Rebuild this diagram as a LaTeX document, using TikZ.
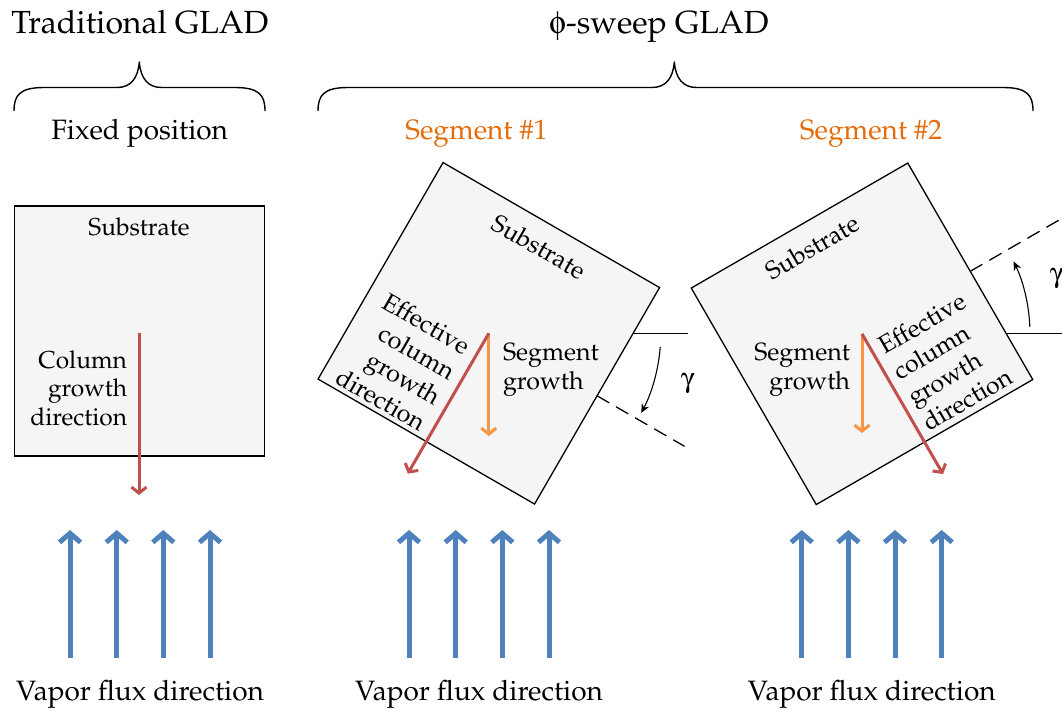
\documentclass[tikz,border=0pt]{standalone}
\usepackage[T1]{fontenc}
\usepackage{mathpazo}
\usepackage[Symbol]{upgreek}
\usetikzlibrary{arrows.meta}
\definecolor{fluxblue}{HTML}{4F81BD}
\definecolor{colred}{HTML}{C0504D}
\definecolor{segorange}{HTML}{F79646}
\definecolor{segtext}{HTML}{E46C0A}
\definecolor{subfill}{HTML}{F5F5F5}
\newcommand{\fsTitle}{\fontsize{32}{38}\selectfont}
\newcommand{\fsHead}{\fontsize{28}{33}\selectfont}
\newcommand{\fsBox}{\fontsize{24.5}{28.5}\selectfont}
\newcommand{\fsSeg}{\fontsize{25}{29.5}\selectfont}
\begin{document}
\begin{tikzpicture}[x=1pt,y=1pt,
  every node/.style={inner sep=0pt, outer sep=0pt},
  substrate/.style={draw=black, line width=1.3pt, fill=subfill, minimum width=250pt, minimum height=250pt},
  title/.style={font=\fsTitle, anchor=base},
  head/.style={font=\fsHead, anchor=base},
  boxtxt/.style={font=\fsBox},
  segtxt/.style={font=\fsSeg},
  bracestyle/.style={line width=1.4pt, line join=round},
  flux/.style={draw=fluxblue, line width=5pt, -{Straight Barb[length=9pt,width=21pt]}},
  redarrow/.style={draw=colred, line width=3pt, -{Straight Barb[length=6pt,width=15pt]}},
  orarrow/.style={draw=segorange, line width=3pt, -{Straight Barb[length=6pt,width=15pt]}},
  refline/.style={line width=1.3pt},
  refdash/.style={line width=1.3pt, dash pattern=on 14pt off 8pt},
  gammaarc/.style={line width=1.1pt, -{Stealth[length=9pt,width=8pt]}},
  gam/.style={font=\fsHead}
]
\path[use as bounding box] (0,0) rectangle (1062,-713);
\clip (0,0) rectangle (1062,-713);

% ---------- titles ----------
\node[title] (t1) at (140,-33) {Traditional GLAD};
\node[title] (t2) at (659,-33) {$\upphi$-sweep GLAD};

% ---------- braces ----------
\draw[bracestyle] (14,-111) .. controls (14,-95) and (20,-87.5) .. (44,-87.5)
  -- (117,-87.5) .. controls (131,-87.5) and (138,-78) .. (139.3,-62)
  .. controls (140.6,-78) and (147.6,-87.5) .. (161.6,-87.5)
  -- (235,-87.5) .. controls (259,-87.5) and (265,-95) .. (265,-111);
\draw[bracestyle] (318,-111) .. controls (318,-95) and (324,-87.5) .. (348,-87.5)
  -- (652,-87.5) .. controls (666,-87.5) and (673,-78) .. (674.3,-62)
  .. controls (675.6,-78) and (682.6,-87.5) .. (696.6,-87.5)
  -- (1003,-87.5) .. controls (1027,-87.5) and (1033,-95) .. (1033,-111);

% ---------- sub headings ----------
\node[head] (h1) at (139.7,-139) {Fixed position};
\node[head, text=segtext] (h2) at (476.5,-139) {Segment \#1};
\node[head, text=segtext] (h3) at (871,-139) {Segment \#2};

% ---------- traditional substrate ----------
\node[substrate] (box0) at (139.3,-331) {};
\node[boxtxt] (sub0) at (139,-227) {Substrate};
\node[boxtxt, anchor=east, align=right] (col0) at (127,-388) {Column\\growth\\direction};
\coordinate (c0) at (139,-333);
\coordinate (r0) at (139,-495);
\draw[redarrow] (c0) -- (r0);

% ---------- segment 1 ----------
\coordinate (c1) at (488.8,-333.3);
\coordinate (hl1) at (688,-333.3);
\draw[refline] (c1) -- (hl1);
\begin{scope}[shift={(488.8,-333.3)}, rotate=-30]
  \node[substrate, transform shape] (box1) at (0,0) {};
  \node[boxtxt, font=\fsSeg, transform shape] (sub1) at (0,100) {Substrate};
  \node[segtxt, transform shape, anchor=east, align=right] (eff1) at (-11,-67) {Effective\\column\\growth\\direction};
  \coordinate (r1) at (0,-162);
  \coordinate (d1a) at (125,0);
  \coordinate (d1b) at (226,0);
\end{scope}
\draw[refdash] (d1a) -- (d1b);
\coordinate (o1) at (488.8,-436);
\draw[orarrow] (c1) -- (o1);
\draw[redarrow] (c1) -- (r1);
\node[segtxt, anchor=west, align=left] (sg1) at (503,-370) {Segment\\growth};
\draw[gammaarc] (c1) ++(-4.5:172) arc[start angle=-4.5, end angle=-27.6, radius=172];
\node[gam] (g1) at (688,-384) {$\upgamma$};

% ---------- segment 2 ----------
\coordinate (c2) at (862,-333.8);
\coordinate (hl2) at (1080,-333.8);
\draw[refline] (c2) -- (hl2);
\begin{scope}[shift={(862,-333.8)}, rotate=30]
  \node[substrate, transform shape] (box2) at (0,0) {};
  \node[boxtxt, font=\fsSeg, transform shape] (sub2) at (0,100) {Substrate};
  \node[segtxt, transform shape, anchor=west, align=left] (eff2) at (9,-65) {Effective\\column\\growth\\direction};
  \coordinate (r2) at (0,-162);
  \coordinate (d2a) at (125,0);
  \coordinate (d2b) at (245,0);
\end{scope}
\draw[refdash] (d2a) -- (d2b);
\coordinate (o2) at (862,-433);
\draw[orarrow] (c2) -- (o2);
\draw[redarrow] (c2) -- (r2);
\node[segtxt, anchor=east, align=right] (sg2) at (850,-370) {Segment\\growth};
\draw[gammaarc] (c2) ++(2.4:168) arc[start angle=2.4, end angle=25.5, radius=168];
\node[gam] (g2) at (1057,-279) {$\upgamma$};

% ---------- vapor flux ----------
\foreach \gx [count=\gi] in {140,479,871.7} {
  \foreach \dx [count=\k] in {-70,-23.3,23.3,70} {
    \coordinate (ft\gi\k) at (\gx+\dx,-658);
    \coordinate (fh\gi\k) at (\gx+\dx,-530);
    \draw[flux] (ft\gi\k) -- (fh\gi\k);
  }
  \node[head] (vf\gi) at (\gx,-700) {Vapor flux direction};
}
\end{tikzpicture}
\end{document}
